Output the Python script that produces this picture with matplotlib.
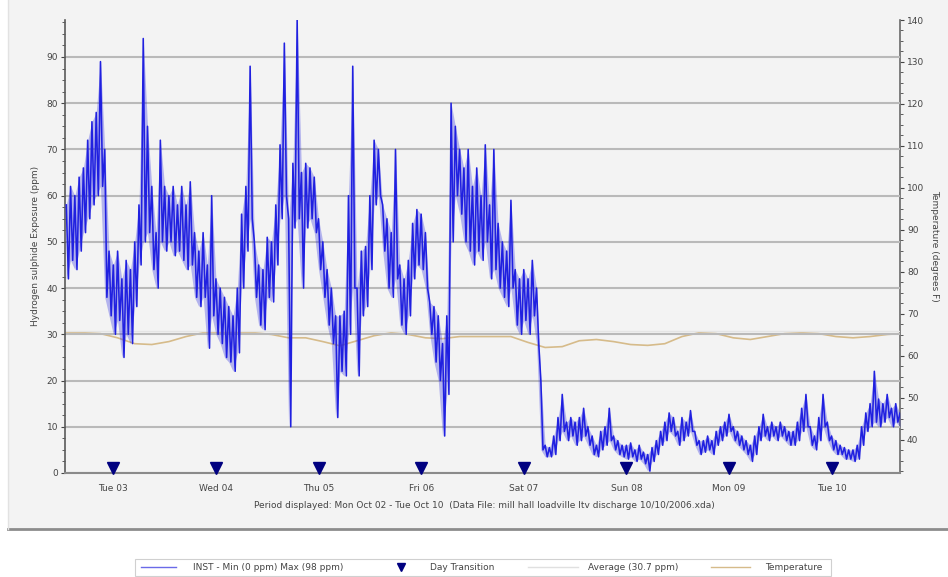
import numpy as np
import pandas as pd
import matplotlib
matplotlib.use("Agg")
import matplotlib.pyplot as plt
from matplotlib.ticker import MultipleLocator
from matplotlib.lines import Line2D
from matplotlib.patches import Rectangle

# Hourly H2S readings (ppm): the highest and lowest value seen within each hour,
# starting Mon Oct 02 2006 13:00.
START = pd.Timestamp("2006-10-02 13:00")
h2s_high = [
    58, 62, 60, 64, 66, 72, 76, 78, 89, 70,
    48, 45, 48, 42, 46, 44, 50, 58, 94, 75,
    62, 52, 72, 62, 60, 62, 58, 62, 58, 63,
    52, 48, 52, 45, 60, 42, 40, 38, 36, 34,
    40, 56, 62, 88, 50, 45, 44, 51, 50, 58,
    71, 93, 55, 67, 98, 65, 67, 66, 64, 55,
    50, 44, 40, 34, 34, 35, 60, 88, 40, 48,
    49, 60, 72, 70, 58, 55, 52, 70, 45, 42,
    46, 54, 57, 56, 52, 37, 36, 34, 28, 34,
    80, 75, 70, 66, 70, 62, 66, 60, 71, 58,
    70, 54, 50, 48, 59, 44, 42, 44, 42, 46,
    40, 20, 6, 5.5, 8, 12, 17, 11, 12, 11,
    12, 14, 10, 8, 6, 9, 10, 14, 8, 7,
    6, 6, 6.5, 5, 6, 4.5, 4, 5.5, 7, 9,
    11, 13, 12, 9, 12, 11, 13.5, 9, 7, 7,
    8, 7, 9, 10, 11, 12.7, 10, 9, 8, 7,
    6, 8, 10, 12.7, 10, 11, 10, 11, 10, 9,
    9, 11, 14, 17, 10, 8, 12, 17, 11, 8,
    7, 6, 5.5, 5, 5, 6, 10, 13, 15, 22,
    16, 15, 17, 14, 15, 13,
]
h2s_low = [
    42, 46, 44, 48, 52, 55, 58, 60, 62, 38,
    34, 30, 33, 25, 30, 28, 36, 45, 50, 52,
    44, 40, 50, 48, 50, 47, 48, 46, 44, 45,
    38, 36, 38, 27, 34, 30, 28, 25, 24, 22,
    26, 40, 48, 55, 38, 32, 31, 38, 37, 45,
    55, 60, 10, 53, 55, 40, 53, 55, 52, 44,
    38, 32, 28, 12, 22, 21, 30, 40, 21, 34,
    36, 44, 58, 60, 48, 40, 38, 42, 32, 30,
    34, 42, 45, 44, 40, 30, 24, 20, 8, 17,
    50, 60, 56, 50, 48, 45, 48, 46, 50, 42,
    44, 40, 38, 36, 40, 32, 30, 33, 30, 34,
    28, 5, 3.5, 3.5, 4, 7, 9, 7, 8, 6,
    7, 8, 6, 4, 3.5, 5, 6, 7, 5, 4,
    3.5, 3, 3.5, 2.5, 3, 2, 0.4, 2.5, 4, 6,
    7, 9, 8, 6, 7, 8, 9, 6, 4, 4.5,
    5, 4, 6, 7, 8, 9, 7, 6, 5, 4,
    2.5, 4, 7, 8, 7, 8, 7, 8, 7, 6,
    6, 7, 9, 10, 6, 5, 7, 10, 7, 5,
    4, 4, 3, 3, 2.5, 3, 6, 9, 10, 11,
    10, 11, 12, 10, 11, 10,
]

# Temperature (degrees F), every four hours from the start
temp_hours = [0, 4, 8, 12, 16, 20, 24, 28, 32, 36, 40, 44, 48, 52, 56, 60, 64,
              68, 72, 76, 80, 84, 88, 92, 96, 100, 104, 108, 112, 116, 120, 124,
              128, 132, 136, 140, 144, 148, 152, 156, 160, 164, 168, 172, 176,
              180, 184, 188, 192, 195]
temp_f = [65.5, 65.5, 65.3, 64.3, 62.9, 62.7, 63.4, 64.6, 65.5, 65.5, 65.5,
          65.5, 65.1, 64.3, 64.3, 63.4, 62.4, 63.6, 64.8, 65.5, 65.1, 64.3,
          64.1, 64.6, 64.6, 64.6, 64.6, 63.2, 62.0, 62.2, 63.6, 63.9, 63.4,
          62.7, 62.5, 62.9, 64.6, 65.5, 65.3, 64.3, 63.9, 64.6, 65.3, 65.5,
          65.3, 64.6, 64.3, 64.6, 65.1, 65.3]

day_marks = ["2006-10-03", "2006-10-04", "2006-10-05", "2006-10-06",
             "2006-10-07", "2006-10-08", "2006-10-09", "2006-10-10"]
day_labels = ["Tue 03", "Wed 04", "Thu 05", "Fri 06",
              "Sat 07", "Sun 08", "Mon 09", "Tue 10"]
AVERAGE = 30.7

BLUE = "#2020e0"
NAVY = "#000080"
TAN = "#d6bb8a"
GRID = "#b9b9b9"
PANEL = "#f3f3f3"
TXT = "#444444"
FS = 6.5

# zig-zag through each hour's high and low reading
n = len(h2s_high)
hours = np.arange(n)
t_series = np.empty(2 * n)
v_series = np.empty(2 * n)
t_series[0::2] = hours
t_series[1::2] = hours + 0.5
v_series[0::2] = h2s_high
v_series[1::2] = h2s_low
times = [START + pd.Timedelta(hours=float(h)) for h in t_series]
hour_times = [START + pd.Timedelta(hours=float(h)) for h in hours]
temp_times = [START + pd.Timedelta(hours=float(h)) for h in temp_hours]
marks = pd.to_datetime(day_marks)

W, H = 948, 577
fig = plt.figure(figsize=(W / 100, H / 100), dpi=100, facecolor="white")

# grey report panel with a shaded lower edge, kept behind the axes
fig.patches.append(Rectangle((8 / W, 1 - 529 / H), 1 - 8 / W, 529 / H,
                             transform=fig.transFigure, facecolor=PANEL,
                             edgecolor="none", zorder=-10))
fig.add_artist(Line2D([8 / W, 1], [1 - 529 / H] * 2, transform=fig.transFigure,
                      color="#8c8c8c", lw=2, zorder=-9))
fig.add_artist(Line2D([8 / W, 8 / W], [1 - 529 / H, 1], transform=fig.transFigure,
                      color="#e2e2e2", lw=1, zorder=-9))

ax = fig.add_axes([65 / W, 1 - 473 / H, 835 / W, 453 / H])
ax2 = ax.twinx()
ax.set_zorder(ax2.get_zorder() + 1)
ax.patch.set_visible(False)
ax2.patch.set_visible(False)

# temperature on the right-hand scale
ax2.plot(temp_times, temp_f, color=TAN, lw=1.2)
ax2.set_ylim(32.1, 140)
ax2.set_yticks(np.arange(40, 141, 10))
ax2.yaxis.set_minor_locator(MultipleLocator(2.5))
ax2.tick_params(axis="y", which="major", length=3, width=0.8, pad=2,
                labelsize=FS, colors=TXT)
ax2.tick_params(axis="y", which="minor", length=2, width=0.6, colors=TXT)
for s in ("top", "left", "bottom"):
    ax2.spines[s].set_visible(False)
ax2.spines["right"].set_color("#6a6a6a")
ax2.spines["right"].set_linewidth(1.2)

# H2S exposure on the left-hand scale: hourly band plus the jagged trace
ax.axhline(AVERAGE, color="#e4e4e4", lw=1, zorder=1)
ax.fill_between(hour_times, h2s_low, h2s_high, color=BLUE, alpha=0.3,
                lw=0, zorder=2)
ax.plot(times, v_series, color=BLUE, lw=1.15, zorder=3)
ax.plot(marks, [1.1] * len(marks), linestyle="none", marker="v", ms=8,
        color=NAVY, clip_on=False, zorder=4)

ax.set_xlim(START + pd.Timedelta(hours=-0.3), START + pd.Timedelta(hours=195.0))
ax.set_ylim(0, 98)
ax.set_yticks(np.arange(0, 91, 10))
ax.yaxis.set_minor_locator(MultipleLocator(2.5))
ax.yaxis.grid(True, color=GRID, lw=1.5, zorder=0)
ax.set_axisbelow(True)
ax.tick_params(axis="y", which="major", length=3, width=0.8, pad=2,
               labelsize=FS, colors=TXT)
ax.tick_params(axis="y", which="minor", length=2, width=0.6, colors=TXT)

ax.set_xticks(marks)
ax.set_xticklabels(day_labels)
ax.tick_params(axis="x", length=0, pad=8, labelsize=FS, colors=TXT)

for s in ("top", "right"):
    ax.spines[s].set_visible(False)
ax.spines["left"].set_color("#5a5a5a")
ax.spines["left"].set_linewidth(1.2)
ax.spines["bottom"].set_color("#8a8a8a")
ax.spines["bottom"].set_linewidth(1.5)

fig.text(36 / W, 1 - 246 / H, "Hydrogen sulphide Exposure (ppm)", rotation=90,
         ha="center", va="center", fontsize=FS, color=TXT)
fig.text(935 / W, 1 - 246 / H, "Temperature (degrees F)", rotation=270,
         ha="center", va="center", fontsize=FS, color=TXT)
fig.text(484 / W, 1 - 505 / H,
         "Period displayed: Mon Oct 02 - Tue Oct 10  (Data File: mill hall "
         "loadville ltv discharge 10/10/2006.xda)",
         ha="center", va="center", fontsize=FS, color=TXT)

# legend strip under the panel
ly = 1 - 567 / H
vmin = min(h2s_low)
vmax = max(h2s_high)
fig.patches.append(Rectangle((135 / W, 1 - 576 / H), 696 / W, 17 / H,
                             transform=fig.transFigure, facecolor="white",
                             edgecolor="#d0d0d0", lw=0.8, zorder=-5))
fig.add_artist(Line2D([141 / W, 176 / W], [ly, ly], transform=fig.transFigure,
                      color="#6a6ae8", lw=1))
fig.text(193 / W, ly, f"INST - Min ({vmin:.0f} ppm) Max ({vmax:.0f} ppm)",
         ha="left", va="center", fontsize=FS, color=TXT)
fig.add_artist(Line2D([401 / W], [ly], transform=fig.transFigure,
                      linestyle="none", marker="v", ms=6, color=NAVY))
fig.text(430 / W, ly, "Day Transition", ha="left", va="center",
         fontsize=FS, color=TXT)
fig.add_artist(Line2D([528 / W, 578 / W], [ly, ly], transform=fig.transFigure,
                      color="#e0e0e0", lw=1))
fig.text(588 / W, ly, f"Average ({AVERAGE} ppm)", ha="left", va="center",
         fontsize=FS, color=TXT)
fig.add_artist(Line2D([711 / W, 750 / W], [ly, ly], transform=fig.transFigure,
                      color=TAN, lw=1))
fig.text(765 / W, ly, "Temperature", ha="left", va="center",
         fontsize=FS, color=TXT)

fig.savefig("out.png", dpi=100, facecolor="white")
